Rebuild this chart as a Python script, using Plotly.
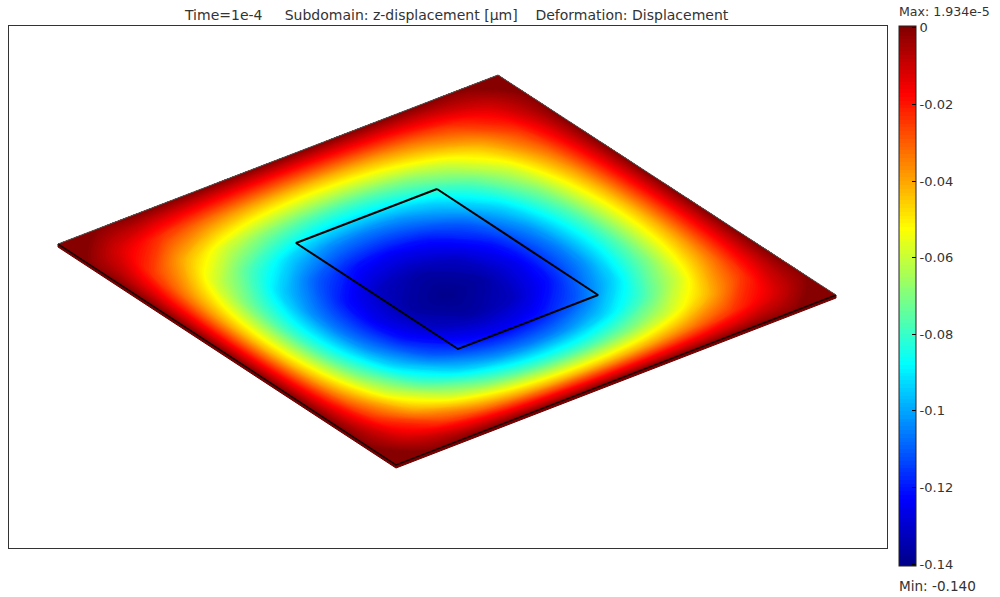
import plotly.graph_objects as go

# z-displacement values on a 13 x 13 plate grid
z_values = [
 [0,0,0,0,0,0,0,0,0,0,0,0,0],
 [0,-.0131,-.0238,-.0321,-.0381,-.0416,-.0428,-.0416,-.0381,-.0321,-.0238,-.0131,0],
 [0,-.0238,-.0433,-.0584,-.0692,-.0757,-.0778,-.0757,-.0692,-.0584,-.0433,-.0238,0],
 [0,-.0321,-.0584,-.0788,-.0933,-.1021,-.1050,-.1021,-.0933,-.0788,-.0584,-.0321,0],
 [0,-.0381,-.0692,-.0933,-.1106,-.1210,-.1245,-.1210,-.1106,-.0933,-.0692,-.0381,0],
 [0,-.0416,-.0757,-.1021,-.1210,-.1323,-.1361,-.1323,-.1210,-.1021,-.0757,-.0416,0],
 [0,-.0428,-.0778,-.1050,-.1245,-.1361,-.1400,-.1361,-.1245,-.1050,-.0778,-.0428,0],
 [0,-.0416,-.0757,-.1021,-.1210,-.1323,-.1361,-.1323,-.1210,-.1021,-.0757,-.0416,0],
 [0,-.0381,-.0692,-.0933,-.1106,-.1210,-.1245,-.1210,-.1106,-.0933,-.0692,-.0381,0],
 [0,-.0321,-.0584,-.0788,-.0933,-.1021,-.1050,-.1021,-.0933,-.0788,-.0584,-.0321,0],
 [0,-.0238,-.0433,-.0584,-.0692,-.0757,-.0778,-.0757,-.0692,-.0584,-.0433,-.0238,0],
 [0,-.0131,-.0238,-.0321,-.0381,-.0416,-.0428,-.0416,-.0381,-.0321,-.0238,-.0131,0],
 [0,0,0,0,0,0,0,0,0,0,0,0,0],
]
# plate outline and inner subdomain, in view coordinates
plate_x = [498, 836, 396, 58]   # back, right, front, left
plate_y = [75, 295, 465, 244]
inner_x = [437, 598, 458, 296, 437]
inner_y = [189, 295, 349, 243, 189]
tick_vals = [0, -0.02, -0.04, -0.06, -0.08, -0.1, -0.12, -0.14]
tick_text = ["0", "-0.02", "-0.04", "-0.06", "-0.08", "-0.1", "-0.12", "-0.14"]
deform_scale = 178  # view units per µm

n = len(z_values)
a = [i / (n - 1) for i in range(n)]
b = a
grid_x, grid_y = [], []
for j in range(n):
    rx, ry = [], []
    for i in range(n):
        u, v = a[i], b[j]
        # corners: (0,0)=back, (1,0)=left, (0,1)=right, (1,1)=front
        x = (1-u)*(1-v)*plate_x[0] + u*(1-v)*plate_x[3] + (1-u)*v*plate_x[1] + u*v*plate_x[2]
        y = (1-u)*(1-v)*plate_y[0] + u*(1-v)*plate_y[3] + (1-u)*v*plate_y[1] + u*v*plate_y[2]
        rx.append(x)
        ry.append(y - deform_scale * z_values[j][i])
    grid_x.append(rx)
    grid_y.append(ry)

jet = [[0, "rgb(0,0,135)"], [0.125, "rgb(0,0,255)"], [0.375, "rgb(0,255,255)"],
       [0.625, "rgb(255,255,0)"], [0.875, "rgb(255,0,0)"], [1, "rgb(128,0,0)"]]

FONT = "DejaVu Sans"
fig = go.Figure()
# plate side face
sx = [plate_x[3], plate_x[2], plate_x[1], plate_x[1], plate_x[2], plate_x[3], plate_x[3]]
sy = [plate_y[3], plate_y[2], plate_y[1], plate_y[1]+3, plate_y[2]+3, plate_y[3]+3, plate_y[3]]
fig.add_trace(go.Scatter(x=sx, y=sy, mode="lines", fill="toself", fillcolor="#7a0000",
                         line=dict(color="#6a0000", width=1), hoverinfo="skip", showlegend=False))
axis_off = dict(showgrid=False, showline=False, showticklabels="none", startline=False,
                endline=False, minorgridcount=0, title=dict(text=""))
fig.add_trace(go.Carpet(a=a, b=b, x=grid_x, y=grid_y, carpet="plate", aaxis=axis_off, baxis=axis_off))
fig.add_trace(go.Contourcarpet(a=a, b=b, z=z_values, carpet="plate", colorscale=jet,
    autocontour=False, contours=dict(start=-0.14, end=0, size=0.001, coloring="fill", showlines=False),
    line=dict(width=0),
    colorbar=dict(lenmode="pixels", len=540, thickness=17, x=(899-9)/878, xanchor="left", y=1, yanchor="top",
                  xpad=0, ypad=0, tickmode="array", tickvals=tick_vals, ticktext=tick_text, ticks="inside",
                  ticklen=4, tickcolor="black", outlinecolor="#222", outlinewidth=1,
                  tickfont=dict(family=FONT, size=13, color="#333"))))
# front edges and back edges
fig.add_trace(go.Scatter(x=[plate_x[3], plate_x[2], plate_x[1]], y=[plate_y[3], plate_y[2], plate_y[1]],
                         mode="lines", line=dict(color="#1a0000", width=1.5), hoverinfo="skip", showlegend=False))
fig.add_trace(go.Scatter(x=[plate_x[3], plate_x[0], plate_x[1]], y=[plate_y[3], plate_y[0], plate_y[1]],
                         mode="lines", line=dict(color="#555", width=1), hoverinfo="skip", showlegend=False))
fig.add_trace(go.Scatter(x=inner_x, y=inner_y, mode="lines", line=dict(color="black", width=2),
                         hoverinfo="skip", showlegend=False))

# colour-bar ticks on its left side
bar_shapes = [dict(type="line", xref="paper", yref="paper", x0=(899-9)/878, x1=(903-9)/878,
                   y0=(548-(26+(-v/0.14)*540))/522, y1=(548-(26+(-v/0.14)*540))/522,
                   line=dict(color="black", width=1)) for v in tick_vals[1:-1]]

ax = dict(showgrid=False, zeroline=False, showticklabels=False, ticks="", showline=True, mirror=True,
          linecolor="#333", linewidth=1)
fig.update_layout(width=1000, height=597, margin=dict(l=9, r=113, t=26, b=49, autoexpand=False),
                  paper_bgcolor="white", plot_bgcolor="white", showlegend=False,
                  xaxis=dict(range=[9, 887], **ax), yaxis=dict(range=[548, 26], **ax),
                  font=dict(family=FONT, size=13, color="#333"), shapes=bar_shapes,
                  annotations=[
    dict(text="Time=1e-4     Subdomain: z-displacement [µm]    Deformation: Displacement", xref="paper", yref="paper",
         x=(456-9)/878, y=(548-15)/522, showarrow=False, xanchor="center", yanchor="middle", font=dict(size=14)),
    dict(text="Max: 1.934e-5", xref="paper", yref="paper", x=(899-9)/878, y=(548-12)/522, showarrow=False,
         xanchor="left", yanchor="middle", xshift=-2, font=dict(size=12.6)),
    dict(text="Min: -0.140", xref="paper", yref="paper", x=(899-9)/878, y=(548-586)/522, showarrow=False,
         xanchor="left", yanchor="middle", xshift=-2, font=dict(size=13.6)),
])
fig.write_html("out.html", post_script="document.body.style.margin='0';", config=dict(displayModeBar=False))
